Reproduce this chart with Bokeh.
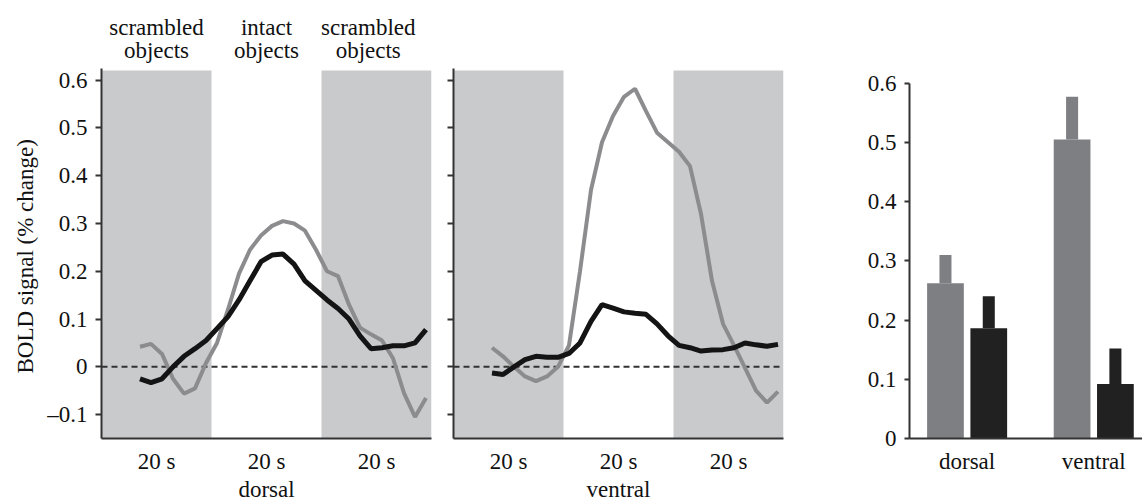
from bokeh.plotting import figure
from bokeh.layouts import row
from bokeh.models import FixedTicker, Title
from bokeh.core.properties import value
from bokeh.embed import file_html
from bokeh.resources import INLINE

FONT = "'Liberation Serif', 'Times New Roman', serif"
FS = "23px"

# ---------------- data ----------------
time_s = [7, 9, 11, 13, 15, 17, 19, 21, 23, 25, 27, 29, 31, 33,
          35, 37, 39, 41, 43, 45, 47, 49, 51, 53, 55, 57, 59]

dorsal_gray = [0.042, 0.048, 0.027, -0.025, -0.056, -0.045, 0.008, 0.05, 0.12, 0.195,
               0.245, 0.275, 0.295, 0.305, 0.30, 0.285, 0.245, 0.20, 0.19, 0.13,
               0.082, 0.068, 0.055, 0.018, -0.055, -0.105, -0.065]
dorsal_black = [-0.025, -0.033, -0.025, 0.0, 0.022, 0.038, 0.055, 0.08, 0.105, 0.14,
                0.18, 0.22, 0.234, 0.236, 0.215, 0.18, 0.16, 0.14, 0.122, 0.10,
                0.065, 0.038, 0.04, 0.044, 0.044, 0.05, 0.078]
ventral_gray = [0.04, 0.022, 0.0, -0.02, -0.03, -0.02, 0.0, 0.045, 0.20, 0.37,
                0.47, 0.525, 0.565, 0.582, 0.535, 0.49, 0.47, 0.45, 0.42, 0.32,
                0.18, 0.09, 0.045, -0.002, -0.05, -0.075, -0.052]
ventral_black = [-0.013, -0.016, 0.0, 0.015, 0.022, 0.02, 0.02, 0.028, 0.05, 0.095,
                 0.13, 0.123, 0.115, 0.112, 0.11, 0.09, 0.065, 0.045, 0.04, 0.033,
                 0.035, 0.036, 0.04, 0.05, 0.046, 0.043, 0.047]

phase_start = [0, 20, 40]
phase_end = [20, 40, 60]
phase_shaded = [True, False, True]
phase_line1 = ["scrambled", "intact", "scrambled"]
phase_line2 = ["objects", "objects", "objects"]
phase_label_x = [10, 30, 48.5]
phase_tick_label = ["20 s", "20 s", "20 s"]

y_ticks = [-0.1, 0, 0.1, 0.2, 0.3, 0.4, 0.5, 0.6]
y_tick_labels = ["\u20130.1", "0", "0.1", "0.2", "0.3", "0.4", "0.5", "0.6"]

bar_groups = ["dorsal", "ventral"]
bar_gray = [0.262, 0.505]
bar_gray_err = [0.048, 0.072]
bar_black = [0.186, 0.092]
bar_black_err = [0.054, 0.060]

SHADE = "#c9cacc"
GRAY = "#8c8c8e"
BLACK = "#141414"
AXIS = "#333333"
TXT = "#111111"
H = 504
BOTTOM = 64


def style_axes(p):
    for ax in p.axis:
        ax.axis_line_color = AXIS
        ax.axis_line_width = 2
        ax.major_tick_line_color = AXIS
        ax.major_tick_line_width = 2
        ax.minor_tick_line_color = None
        ax.major_label_text_font = FONT
        ax.major_label_text_font_size = FS
        ax.major_label_text_color = TXT
        ax.axis_label_text_font = FONT
        ax.axis_label_text_font_size = FS
        ax.axis_label_text_font_style = "normal"
        ax.axis_label_text_color = TXT
    p.xgrid.visible = False
    p.ygrid.visible = False
    p.outline_line_color = None
    p.background_fill_color = "white"
    p.border_fill_color = "white"


def timecourse(width, border_left, border_right, gray, black, region, show_labels):
    p = figure(width=width, height=H, x_range=(0, 60), y_range=(-0.15, 0.7667),
               output_backend="svg", toolbar_location=None,
               min_border_left=border_left, min_border_right=border_right,
               min_border_top=0, min_border_bottom=BOTTOM)
    shaded_l = [s for s, f in zip(phase_start, phase_shaded) if f]
    shaded_r = [e for e, f in zip(phase_end, phase_shaded) if f]
    p.quad(left=shaded_l, right=shaded_r, bottom=-0.15, top=0.62,
           fill_color=SHADE, line_color=None)
    p.line(x=[0, 60], y=[0, 0], line_color=AXIS, line_width=2, line_dash="6 4")
    p.line(x=time_s, y=gray, line_color=GRAY, line_width=4)
    p.line(x=time_s, y=black, line_color=BLACK, line_width=5)
    if show_labels:
        p.text(x=phase_label_x, y=[0.71] * 3, text=phase_line1,
               text_font=value(FONT), text_font_size=FS, text_align="center",
               text_baseline="alphabetic", text_color=TXT)
        p.text(x=phase_label_x, y=[0.6625] * 3, text=phase_line2,
               text_font=value(FONT), text_font_size=FS, text_align="center",
               text_baseline="alphabetic", text_color=TXT)
    p.xaxis.ticker = FixedTicker(ticks=[(s + e) / 2 for s, e in zip(phase_start, phase_end)])
    p.xaxis.major_label_overrides = {(s + e) / 2: l for s, e, l in
                                     zip(phase_start, phase_end, phase_tick_label)}
    p.xaxis.major_tick_out = 0
    p.xaxis.major_tick_in = 0
    p.xaxis.major_label_standoff = 10
    p.xaxis.axis_label = region
    p.xaxis.axis_label_standoff = 0
    p.yaxis.ticker = FixedTicker(ticks=y_ticks)
    p.yaxis.bounds = (-0.15, 0.625)
    p.yaxis.major_tick_out = 6
    p.yaxis.major_tick_in = 0
    style_axes(p)
    return p


p1 = timecourse(442, 101, 11, dorsal_gray, dorsal_black, "dorsal", True)
p1.yaxis.major_label_overrides = {t: l for t, l in zip(y_ticks, y_tick_labels)}
p1.yaxis.major_label_standoff = 8
p1.add_layout(Title(text="BOLD signal (% change)", align="left", offset=65,
                    text_font=FONT, text_font_size=FS, text_font_style="normal",
                    text_color=TXT, standoff=14), "left")

p2 = timecourse(358, 11, 17, ventral_gray, ventral_black, "ventral", False)
p2.yaxis.major_label_overrides = {t: "" for t in y_ticks}
p2.yaxis.major_label_standoff = 0

# ---------------- bar chart ----------------
group_x = [1, 3]
offset = 0.342
bar_w = 0.58
err_w = 0.19
p3 = figure(width=342, height=H, x_range=(0.09, 3.77), y_range=(0, 0.7395),
            output_backend="svg", toolbar_location=None,
            min_border_left=109, min_border_right=0,
            min_border_top=0, min_border_bottom=BOTTOM)
gx = [g - offset for g in group_x]
bx = [g + offset for g in group_x]
p3.vbar(x=gx, bottom=0, top=bar_gray, width=bar_w, fill_color="#7e7f83", line_color=None)
p3.vbar(x=gx, bottom=bar_gray, top=[v + e for v, e in zip(bar_gray, bar_gray_err)],
        width=err_w, fill_color="#7e7f83", line_color=None)
p3.vbar(x=bx, bottom=0, top=bar_black, width=bar_w, fill_color="#212121", line_color=None)
p3.vbar(x=bx, bottom=bar_black, top=[v + e for v, e in zip(bar_black, bar_black_err)],
        width=err_w, fill_color="#212121", line_color=None)
p3.xaxis.ticker = FixedTicker(ticks=group_x)
p3.xaxis.major_label_overrides = {g: n for g, n in zip(group_x, bar_groups)}
p3.xaxis.major_tick_out = 0
p3.xaxis.major_tick_in = 0
p3.xaxis.major_label_standoff = 10
p3.yaxis.ticker = FixedTicker(ticks=[0, 0.1, 0.2, 0.3, 0.4, 0.5, 0.6])
p3.yaxis.bounds = (0, 0.6)
p3.yaxis.major_label_overrides = {0: "0"}
p3.yaxis.major_tick_out = 5
p3.yaxis.major_tick_in = 0
p3.yaxis.major_label_standoff = 8
style_axes(p3)

layout = row(p1, p2, p3)
open("out.html", "w").write(file_html(layout, INLINE))
